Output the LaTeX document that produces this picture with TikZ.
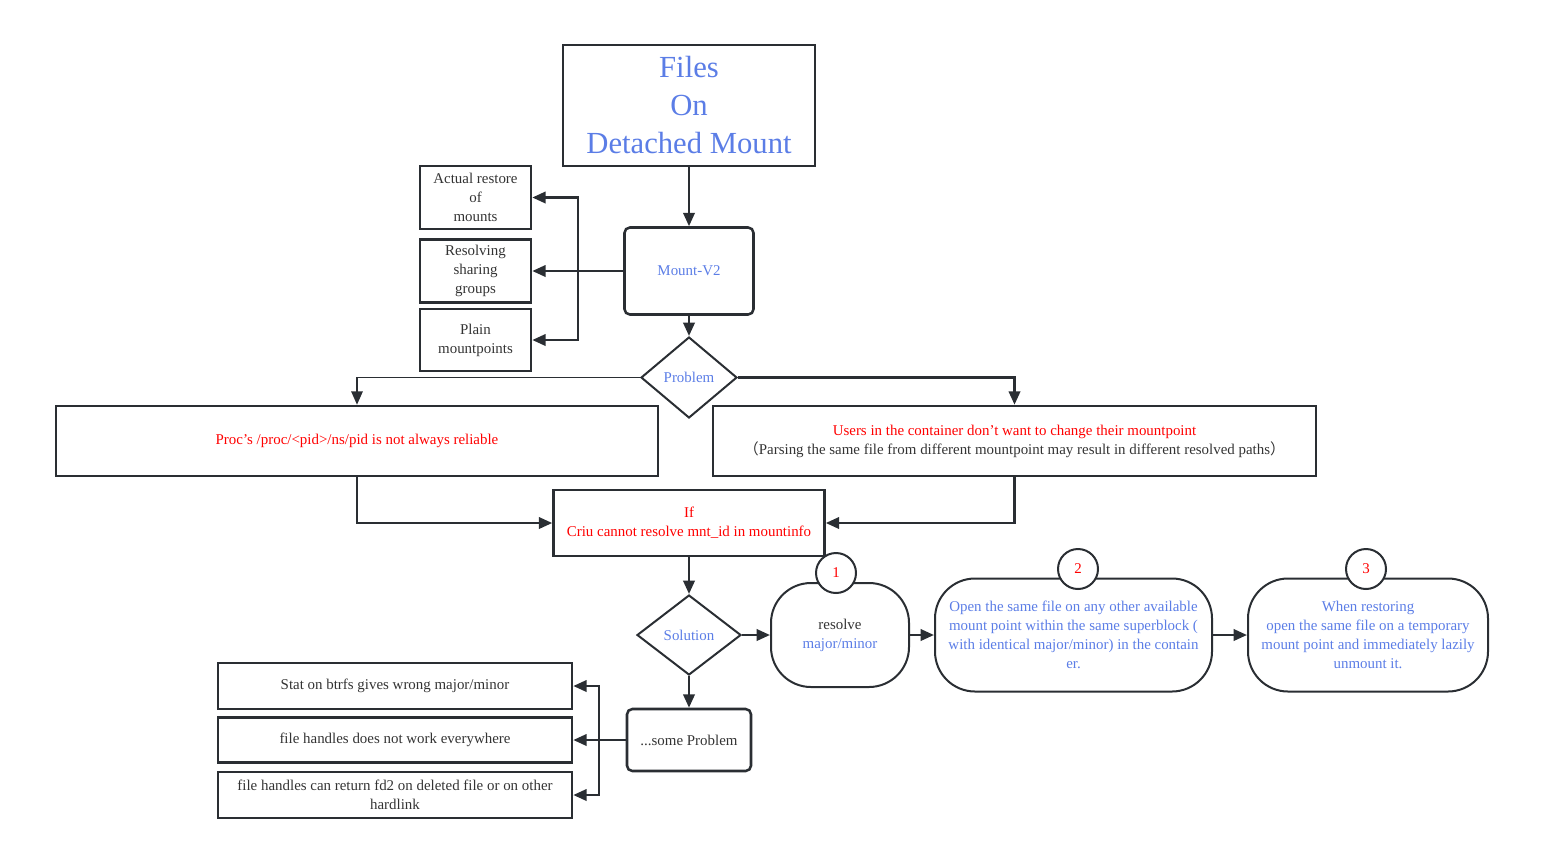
\documentclass[tikz,border=0pt]{standalone}
\usepackage{fontspec}
\setmainfont{Liberation Serif}
\newfontfamily\cjk{Noto Sans CJK SC}
\usetikzlibrary{arrows.meta,shapes.geometric}
\definecolor{fblue}{RGB}{91,125,230}
\definecolor{fdark}{RGB}{42,46,51}
\definecolor{ftext}{RGB}{51,51,51}
\begin{document}
\begin{tikzpicture}[x=0.75pt,y=-0.75pt,
  box/.style={draw=fdark,line width=1.9pt,rectangle,inner sep=0pt,align=center,
    font=\fontsize{11.2}{14.25}\selectfont,text=ftext},
  rbox/.style={box,rounded corners=4pt},
  pill/.style={box,rounded corners=30pt,line width=1.5pt},
  dia/.style={draw=fdark,line width=1.5pt,diamond,inner sep=0pt,aspect=1.2,
    font=\fontsize{11.2}{14.25}\selectfont,text=fblue},
  num/.style={draw=fdark,line width=1.5pt,circle,fill=white,minimum size=30pt,inner sep=0pt,
    font=\fontsize{11.2}{14.25}\selectfont,text=red},
  arr/.style={draw=fdark,line width=1.9pt,-{Triangle[length=10pt,width=8.5pt]}},
  thin arr/.style={arr,line width=1.3pt},
]
\useasboundingbox (0,0) rectangle (1544,861);

% title
\node[box,minimum width=0.75*252pt,minimum height=0.75*121pt,
  font=\fontsize{23}{28.5}\selectfont,text=fblue] (title) at (689,105.5) {Files\\On\\Detached Mount};

% Mount-V2
\node[rbox,minimum width=0.75*129pt,minimum height=0.75*87pt,text=fblue] (mv2) at (689,271) {Mount-V2};

% left boxes
\node[box,minimum width=0.75*111pt,minimum height=0.75*63pt] (b1) at (475.5,197.5) {Actual restore\\of\\mounts};
\node[box,minimum width=0.75*111pt,minimum height=0.75*63pt] (b2) at (475.5,271) {Resolving\\sharing\\groups};
\node[box,minimum width=0.75*111pt,minimum height=0.75*62pt] (b3) at (475.5,340) {Plain\\mountpoints};

% Problem
\node[dia,minimum width=0.75*96pt,minimum height=0.75*81pt] (prob) at (689,377.5) {Problem};

% wide boxes
\node[box,minimum width=0.75*602pt,minimum height=0.75*70pt,text=red] (pl) at (357,441) {Proc’s /proc/<pid>/ns/pid is not always reliable};
\node[box,minimum width=0.75*603pt,minimum height=0.75*70pt] (pr) at (1014.5,441)
  {{\color{red}Users in the container don't want to change their mountpoint}\\{\cjk （}Parsing the same file from different mountpoint may result in different resolved paths{\cjk ）}};

% If box
\node[box,minimum width=0.75*271pt,minimum height=0.75*66pt,text=red] (if) at (689,523) {If\\Criu cannot resolve mnt\_id in mountinfo};

% Solution
\node[dia,minimum width=0.75*104pt,minimum height=0.75*80pt] (sol) at (689,635) {Solution};

% pills
\node[pill,minimum width=0.75*138pt,minimum height=0.75*104pt] (p1) at (840,635) {resolve\\{\color{fblue}major/minor}};
\node[pill,minimum width=0.75*277pt,minimum height=0.75*113pt,text=fblue] (p2) at (1073.5,635)
  {Open the same file on any other available\\mount point within the same superblock (\\with identical major/minor) in the contain\\er.};
\node[pill,minimum width=0.75*240pt,minimum height=0.75*113pt,text=fblue] (p3) at (1368,635)
  {When restoring\\open the same file on a temporary\\mount point and immediately lazily\\unmount it.};

\node[num] (c1) at (836,573) {1};
\node[num] (c2) at (1078,569) {2};
\node[num] (c3) at (1366,569) {3};

% some problem
\node[rbox,minimum width=0.75*124pt,minimum height=0.75*62pt] (sp) at (689,740) {...some Problem};

% bottom-left boxes
\node[box,minimum width=0.75*354pt,minimum height=0.75*46pt] (ba) at (395,686) {Stat on btrfs gives wrong major/minor};
\node[box,minimum width=0.75*354pt,minimum height=0.75*45pt] (bb) at (395,740) {file handles does not work everywhere};
\node[box,minimum width=0.75*354pt,minimum height=0.75*46pt] (bc) at (395,795) {file handles can return fd2 on deleted file or on other\\hardlink};

% junctions
\coordinate (j1) at (578,271);
\coordinate (j2) at (599,740);

% connectors
\draw[arr] (title.south) -- (mv2.north);
\draw[arr] (mv2.west) -- (b2.east);
\draw[arr] (j1) |- (b1.east);
\draw[arr] (j1) |- (b3.east);
\draw[arr] (mv2.south) -- (prob.north);
\draw[thin arr] (prob.west) -| (pl.north);
\draw[arr] (prob.east) -| (pr.north);
\draw[arr] (pl.south) |- (if.west);
\draw[arr] (pr.south) |- (if.east);
\draw[arr] (if.south) -- (sol.north);
\draw[arr] (sol.east) -- (p1.west);
\draw[arr] (p1.east) -- (p2.west);
\draw[arr] (p2.east) -- (p3.west);
\draw[arr] (sol.south) -- (sp.north);
\draw[arr] (sp.west) -- (bb.east);
\draw[arr] (j2) |- (ba.east);
\draw[arr] (j2) |- (bc.east);
\end{tikzpicture}
\end{document}
